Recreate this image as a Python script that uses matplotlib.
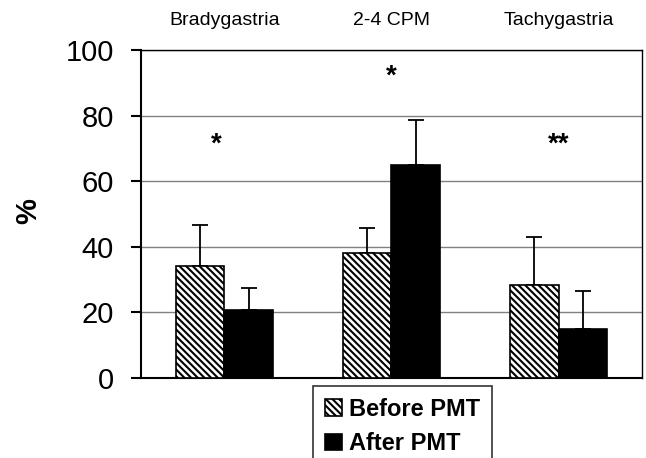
import matplotlib.pyplot as plt
import numpy as np

plt.rcParams['font.family'] = ['Liberation Sans', 'DejaVu Sans']
plt.rcParams['hatch.linewidth'] = 1.5

categories = ['Bradygastria', '2-4 CPM', 'Tachygastria']
before = [34.0, 38.0, 28.3]
before_err = [12.6, 7.8, 14.6]
after = [20.7, 65.0, 14.9]
after_err = [6.8, 13.7, 11.5]
marks = ['*', '*', '**']
mark_y = [71, 92, 71]

x = np.arange(len(categories)) + 0.5
w = 0.29

fig = plt.figure(figsize=(6.46, 4.58), dpi=100)
ax = fig.add_axes([0.218, 0.1747, 0.776, 0.7163])

ax.bar(x - w / 2, before, w, color='white', edgecolor='black', hatch='\\\\\\\\\\',
       linewidth=1.2, label='Before PMT', zorder=3)
ax.bar(x + w / 2, after, w, color='black', edgecolor='black',
       linewidth=1.2, label='After PMT', zorder=3)
ax.errorbar(x - w / 2, before, yerr=[np.zeros(3), before_err], fmt='none',
            ecolor='black', elinewidth=1.3, capsize=6, capthick=1.3, zorder=2)
ax.errorbar(x + w / 2, after, yerr=[np.zeros(3), after_err], fmt='none',
            ecolor='black', elinewidth=1.3, capsize=6, capthick=1.3, zorder=2)

for xi, m, yi in zip(x, marks, mark_y):
    ax.text(xi - (0.05 if m == '*' and xi < 1 else 0), yi, m, ha='center', va='center',
            fontsize=20, fontweight='bold')

ax.set_xlim(0, 3)
ax.set_ylim(0, 100)
ax.set_yticks(range(0, 101, 20))
ax.tick_params(axis='y', labelsize=21, length=7.5, width=1.5, direction='out', pad=12)
ax.set_xticks([])
ax.yaxis.grid(True, color='#808080', linewidth=1.0, zorder=0)
ax.set_axisbelow(True)
for s in ax.spines.values():
    s.set_linewidth(1.5)
ax.spines['top'].set_linewidth(1.0)
ax.spines['right'].set_linewidth(1.0)

for xi, c in zip(x, categories):
    ax.text(xi, 1.09, c, transform=ax.get_xaxis_transform(), ha='center',
            va='center', fontsize=14)

fig.text(0.043, 0.539, '%', rotation=90, ha='center', va='center',
         fontsize=21, fontweight='bold')

leg = fig.legend(loc='upper left', bbox_to_anchor=(0.4845, 0.157),
                 prop={'weight': 'bold', 'size': 17}, frameon=True,
                 fancybox=False, edgecolor='black', handlelength=0.72,
                 handleheight=0.72, handletextpad=0.3, borderpad=0.5,
                 borderaxespad=0, labelspacing=0.48)
leg.get_frame().set_linewidth(1.2)

fig.savefig('out.png', dpi=100)
